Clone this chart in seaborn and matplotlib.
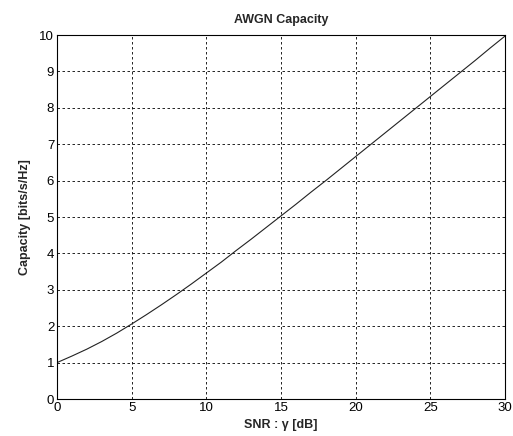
import matplotlib
matplotlib.use("Agg")
import matplotlib.pyplot as plt
import seaborn as sns
import pandas as pd

snr_db = [0, 1, 2, 3, 4, 5, 6, 7, 8, 9, 10, 11, 12, 13, 14, 15, 16, 17, 18, 19, 20,
          21, 22, 23, 24, 25, 26, 27, 28, 29, 30]
capacity = [1.00, 1.18, 1.37, 1.58, 1.81, 2.06, 2.32, 2.59, 2.87, 3.16, 3.46, 3.76,
            4.08, 4.39, 4.71, 5.03, 5.35, 5.68, 6.00, 6.33, 6.66, 6.99, 7.32, 7.65,
            7.98, 8.31, 8.64, 8.97, 9.30, 9.64, 9.97]
x_ticks = [0, 5, 10, 15, 20, 25, 30]
y_ticks = [0, 1, 2, 3, 4, 5, 6, 7, 8, 9, 10]

sns.set_style("white")
plt.rcParams['font.family'] = ['Liberation Sans', 'DejaVu Sans']

df = pd.DataFrame({"snr": snr_db, "cap": capacity})

fig = plt.figure(figsize=(5.13, 4.36), dpi=100)
ax = fig.add_axes([57/513, 1 - 399/436, (505-57)/513, (399-35)/436])
sns.lineplot(data=df, x="snr", y="cap", ax=ax, color="#222222", linewidth=0.8)

ax.set_xlim(0, 30)
ax.set_ylim(0, 10)
ax.set_xticks(x_ticks)
ax.set_yticks(y_ticks)
ax.tick_params(direction="in", length=3, width=0.6, labelsize=9.5, colors="black", pad=2)
ax.grid(True, color="black", linestyle=(0, (3, 3)), linewidth=0.6)
for s in ax.spines.values():
    s.set_color("black")
    s.set_linewidth(0.8)
    s.set_visible(True)

ax.set_title("AWGN Capacity", fontsize=9, fontweight="bold", pad=9)
ax.set_xlabel("SNR : γ [dB]", fontsize=9, fontweight="bold", labelpad=4)
ax.set_ylabel("Capacity [bits/s/Hz]", fontsize=9, fontweight="bold", labelpad=6)

fig.savefig("out.png", dpi=100, facecolor="white")
